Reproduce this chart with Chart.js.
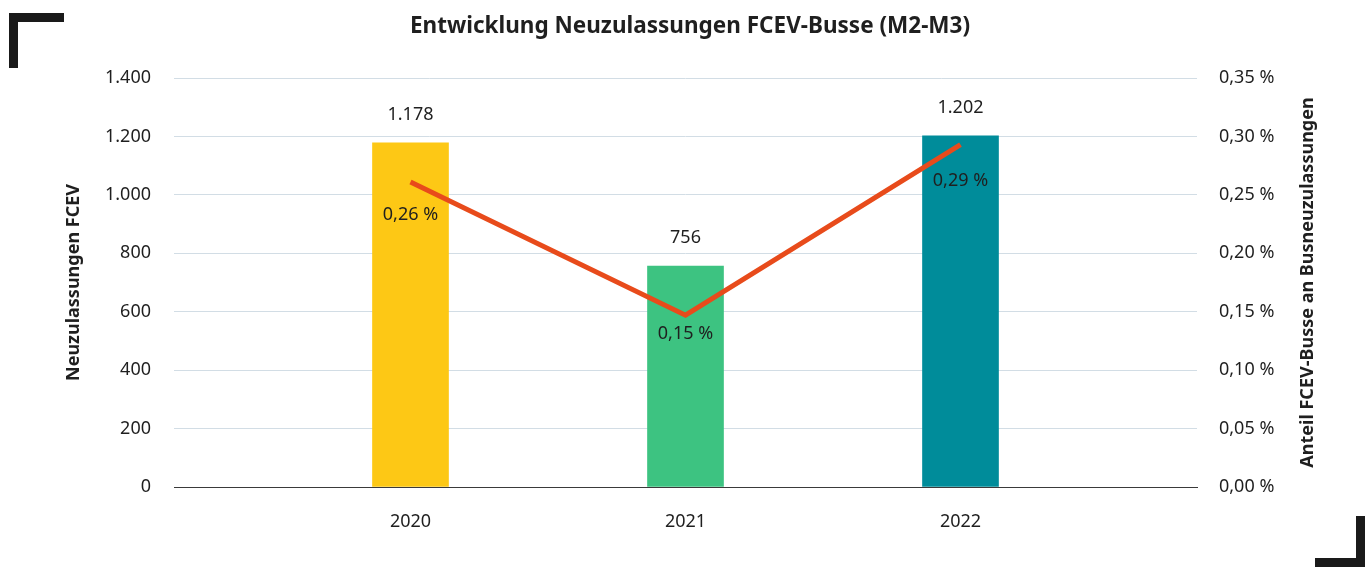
<!DOCTYPE html>
<html lang="de">
<head>
<meta charset="utf-8">
<title>Entwicklung Neuzulassungen FCEV-Busse</title>
<script src="https://cdn.jsdelivr.net/npm/chart.js@4.4.1/dist/chart.umd.min.js"></script>
<style>
    html, body { margin: 0; padding: 0; background: #fff; }
    .wrap { position: relative; width: 1365px; height: 567px; }
    .corner { position: absolute; background: #1a1a1a; }
</style>
</head>
<body>
<div class="wrap">
    <canvas id="chart" width="1365" height="567"></canvas>
    <!-- decorative frame corners -->
    <div class="corner" style="left:9px;top:13px;width:55px;height:9px"></div>
    <div class="corner" style="left:9px;top:13px;width:9px;height:55px"></div>
    <div class="corner" style="left:1315px;top:558px;width:50px;height:9px"></div>
    <div class="corner" style="left:1356px;top:516px;width:9px;height:51px"></div>
</div>
<script>
/* ─── Data ─── */
const years         = [2020, 2021, 2022];
const registrations = [1178, 756, 1202];
const sharePercent  = [0.261, 0.147, 0.293];
const leftTicks     = [0, 200, 400, 600, 800, 1000, 1200, 1400];
const rightTicks    = [0, 0.05, 0.10, 0.15, 0.20, 0.25, 0.30, 0.35];

const barColors = ['#FDC815', '#3DC381', '#008C9A'];
const lineColor = '#E84B1B';
const textColor = '#1f1f1f';
const FONT      = '"Noto Sans", "Open Sans", sans-serif';
const rightTitle = 'Anteil FCEV-Busse an Busneuzulassungen';

const fmtThousands = v => String(v).replace(/\B(?=(\d{3})+(?!\d))/g, '.');
const fmtPercent   = v => v.toFixed(2).replace('.', ',') + '\u00a0%';

/* ─── Value labels (bars above, line below) + right axis title read bottom-up ─── */
const valueLabels = {
    id: 'valueLabels',
    afterDatasetsDraw(chart, args, opts) {
        const ctx = chart.ctx;
        ctx.save();
        ctx.font = '18px ' + FONT;
        ctx.fillStyle = textColor;
        ctx.textAlign = 'center';
        ctx.textBaseline = 'middle';

        chart.getDatasetMeta(0).data.forEach((bar, i) => {
            ctx.fillText(fmtThousands(registrations[i]), bar.x, bar.y - opts.barOffset);
        });
        chart.getDatasetMeta(1).data.forEach((pt, i) => {
            ctx.fillText(fmtPercent(sharePercent[i]), pt.x, pt.y + opts.lineOffsets[i]);
        });

        const s = chart.scales.y1;
        ctx.translate(s.right - opts.rightTitleInset, (s.top + s.bottom) / 2);
        ctx.rotate(-Math.PI / 2);
        ctx.font = 'bold 18px ' + FONT;
        ctx.fillText(rightTitle, 0, 0);
        ctx.restore();
    }
};

new Chart(document.getElementById('chart'), {
    data: {
        datasets: [
            {
                type: 'bar',
                label: 'Neuzulassungen FCEV',
                data: years.map((y, i) => ({ x: y, y: registrations[i] })),
                backgroundColor: barColors,
                barThickness: 76,
                yAxisID: 'y',
                order: 2,
            },
            {
                type: 'line',
                label: rightTitle,
                data: years.map((y, i) => ({ x: y, y: sharePercent[i] })),
                borderColor: lineColor,
                borderWidth: 5,
                pointRadius: 0,
                tension: 0,
                fill: false,
                yAxisID: 'y1',
                order: 1,
            }
        ]
    },
    options: {
        responsive: false,
        animation: false,
        events: [],
        layout: { padding: { left: 55, right: 40, top: 0, bottom: 0 } },
        plugins: {
            legend: { display: false },
            tooltip: { enabled: false },
            title: {
                display: true,
                text: 'Entwicklung Neuzulassungen FCEV-Busse (M2-M3)',
                color: textColor,
                font: { family: FONT, size: 22.5, weight: 'bold' },
                padding: { top: 13, bottom: 38 },
            },
            valueLabels: { barOffset: 28, lineOffsets: [33, 19, 36], rightTitleInset: 17 },
        },
        scales: {
            x: {
                type: 'linear',
                offset: false,
                min: 2019.14,
                max: 2022.86,
                grid: { display: false, drawTicks: false },
                border: { display: true, color: '#3a3a3a', width: 1 },
                afterBuildTicks: s => { s.ticks = years.map(v => ({ value: v })); },
                ticks: {
                    color: textColor,
                    font: { family: FONT, size: 18 },
                    padding: 24,
                    callback: v => String(v),
                },
                afterFit: s => { s.height = 80; },
            },
            y: {
                position: 'left',
                min: 0,
                max: 1400,
                afterBuildTicks: s => { s.ticks = leftTicks.map(v => ({ value: v })); },
                grid: {
                    color: ctx => ctx.tick && ctx.tick.value === 0 ? '#3a3a3a' : '#d2dde5',
                    drawTicks: false,
                },
                border: { display: false },
                ticks: {
                    color: textColor,
                    font: { family: FONT, size: 18 },
                    padding: 23,
                    callback: v => fmtThousands(v),
                },
                title: {
                    display: true,
                    text: 'Neuzulassungen FCEV',
                    color: textColor,
                    font: { family: FONT, size: 18, weight: 'bold' },
                    padding: { top: 8, bottom: 0 },
                },
                afterFit: s => { s.width = 119; },
            },
            y1: {
                position: 'right',
                min: 0,
                max: 0.35,
                afterBuildTicks: s => { s.ticks = rightTicks.map(v => ({ value: v })); },
                grid: { display: false, drawTicks: false },
                border: { display: false },
                ticks: {
                    color: textColor,
                    font: { family: FONT, size: 18 },
                    padding: 22,
                    callback: v => fmtPercent(v),
                },
                afterFit: s => { s.width = 128; },
            }
        }
    },
    plugins: [valueLabels]
});
</script>
</body>
</html>
